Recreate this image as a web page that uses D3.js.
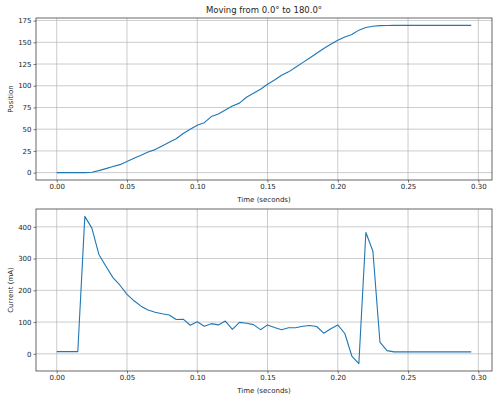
<!DOCTYPE html>
<html><head><meta charset="utf-8">
<script src="https://cdn.jsdelivr.net/npm/d3@7"></script>
<style>body{margin:0;background:#fff}svg{display:block}text{font-family:"DejaVu Sans",sans-serif;fill:#262626}</style>
</head><body>
<svg id="chart" width="500" height="400"></svg>
<script>
const title = "Moving from 0.0° to 180.0°";
const timeStep = 0.005;
const xTicks = [0, 0.05, 0.1, 0.15, 0.2, 0.25, 0.3];
const posTicks = [0, 25, 50, 75, 100, 125, 150, 175];
const curTicks = [0, 100, 200, 300, 400];
const position = [0,0,0,0,0,0.5,2.3,4.6,7,9.2,12.7,16.5,20,23.8,26.5,30.7,35,39,45,50,54.5,57.5,64.5,67.6,72,76.8,80,86.8,91.4,96,101.7,106.7,112,116,121.3,126.6,132,137.4,142.8,147.8,152.4,156.2,158.9,164,167,168.4,169.2,169.4,169.5,169.5,169.5,169.5,169.5,169.5,169.5,169.5,169.5,169.5,169.5,169.5];
const current = [7,7,7,7,433,396,313,276,240,216,187,167,150,138,131,126,122,108,109,90,101,87,95,91,103,77,99,96,92,76,91,83,76,82,82,87,89,86,65,79,91,64,-7,-31,382,323,37,10,6,6,6,6,6,6,6,6,6,6,6,6];
const times = position.map((_, i) => +(i * timeStep).toFixed(3));

const svg = d3.select("#chart");
const L = 36, R = 492;
const x = d3.scaleLinear().domain([-0.01475, 0.30975]).range([L, R]);

function panel(top, bottom, vals, ticks, ylabel, fmtY) {
  const lo = d3.min(vals), hi = d3.max(vals), m = (hi - lo) * 0.05;
  const y = d3.scaleLinear().domain([lo - m, hi + m]).range([bottom, top]);
  const g = svg.append("g");
  // grid
  g.selectAll(".gx").data(xTicks).join("line")
    .attr("x1", d => x(d)).attr("x2", d => x(d)).attr("y1", top).attr("y2", bottom)
    .attr("stroke", "#b0b0b0").attr("stroke-width", 0.8).attr("opacity", 0.8);
  g.selectAll(".gy").data(ticks).join("line")
    .attr("x1", L).attr("x2", R).attr("y1", d => y(d)).attr("y2", d => y(d))
    .attr("stroke", "#b0b0b0").attr("stroke-width", 0.8).attr("opacity", 0.8);
  // line
  g.append("path").datum(vals.map((v, i) => [times[i], v]))
    .attr("fill", "none").attr("stroke", "#1f77b4").attr("stroke-width", 1.1)
    .attr("stroke-linejoin", "round")
    .attr("d", d3.line().x(d => x(d[0])).y(d => y(d[1])));
  // axes
  const xa = g.append("g").attr("transform", `translate(0,${bottom})`)
    .call(d3.axisBottom(x).tickValues(xTicks).tickFormat(d3.format(".2f")).tickSize(2.5).tickPadding(2));
  const ya = g.append("g").attr("transform", `translate(${L},0)`)
    .call(d3.axisLeft(y).tickValues(ticks).tickFormat(fmtY).tickSize(2.5).tickPadding(2));
  [xa, ya].forEach(a => {
    a.select(".domain").remove();
    a.selectAll("text").style("font-family", '"DejaVu Sans",sans-serif').style("font-size", "7px").attr("fill", "#262626");
    a.selectAll("line").attr("stroke", "#262626").attr("stroke-width", 0.6);
  });
  g.append("rect").attr("x", L).attr("y", top).attr("width", R - L).attr("height", bottom - top)
    .attr("fill", "none").attr("stroke", "#262626").attr("stroke-width", 0.7);
  g.append("text").attr("x", (L + R) / 2).attr("y", bottom + 22).attr("text-anchor", "middle")
    .style("font-size", "7px").text("Time (seconds)");
  g.append("text").attr("transform", `translate(13,${(top + bottom) / 2}) rotate(-90)`)
    .attr("text-anchor", "middle").style("font-size", "7px").text(ylabel);
  return y;
}

panel(18, 180, position, posTicks, "Position", d3.format("d"));
panel(209, 371, current, curTicks, "Current (mA)", d3.format("d"));
svg.append("text").attr("x", (L + R) / 2).attr("y", 13).attr("text-anchor", "middle")
  .style("font-size", "8.5px").text(title);
</script>
</body></html>
